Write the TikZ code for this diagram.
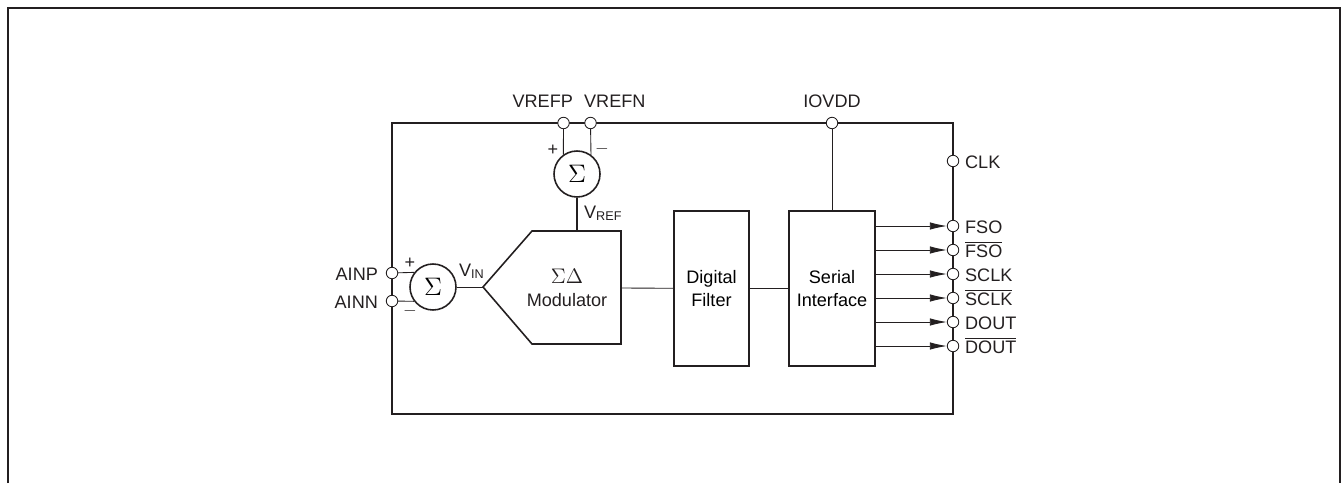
\documentclass[tikz,border=0pt]{standalone}
\usepackage{fontspec}
\setmainfont{Liberation Sans}
\usetikzlibrary{arrows.meta}
\definecolor{ink}{HTML}{231F20}
\tikzset{
  pad/.style={circle,draw=ink,fill=white,line width=0.5pt,minimum size=0.23cm,inner sep=0pt},
  sumnode/.style={circle,draw=ink,line width=0.9pt,minimum size=0.92cm,inner sep=0pt,font=\Large},
  blk/.style={draw=ink,line width=0.9pt,align=center,inner sep=0pt,minimum height=3.1cm},
  wire/.style={draw=ink,line width=0.5pt},
  sig/.style={wire,-{Latex[length=0.34cm,width=0.15cm]}},
  lbl/.style={text=ink,inner sep=1pt}
}

\begin{document}
\begin{tikzpicture}[x=0.02cm,y=-0.02cm,font=\fontsize{10.3}{13.5}\selectfont]
\useasboundingbox (0,0) rectangle (1344,483);
% frame and chip outline
\draw[ink,line width=0.8pt] (8,483) -- (8,8) -- (1340,8) -- (1340,483);
\draw[ink,line width=1.1pt] (392,123) rectangle (953,414);

% modulator
\draw[ink,line width=0.9pt] (483,287) coordinate (mtip) -- (532,231) -- (621,231)
  -- (621,344) -- (532,344) -- cycle;
\coordinate (mtop) at (577,231);
\coordinate (mout) at (621,288);
\node[lbl,align=center] (mod) at (567,288) {{\large$\Sigma\Delta$}\\Modulator};

% summing points
\node[sumnode] (sigin) at (433,287) {$\Sigma$};
\node[sumnode] (sigref) at (577,174) {$\Sigma$};

% blocks
\node[blk,minimum width=1.5cm] (filt) at (711.5,288.5) {Digital\\Filter};
\node[blk,minimum width=1.72cm] (ser) at (832,288.5) {Serial\\Interface};

% pads
\node[pad] (ainp) at (392,273) {};
\node[pad] (ainn) at (392,301) {};
\node[pad] (vrefp) at (563.5,123) {};
\node[pad] (vrefn) at (590.5,123) {};
\node[pad] (iovdd) at (832,123) {};
\node[pad] (clk) at (953,161) {};

\node[lbl,anchor=base east] at (380,280) {AINP};
\node[lbl,anchor=base east] at (380,308) {AINN};
\node[lbl,anchor=east] at (575,101) {VREFP};
\node[lbl,anchor=west] at (582,101) {VREFN};
\node[lbl] at (832,101) {IOVDD};
\node[lbl,anchor=base west] at (963,168) {CLK};

% inputs
\draw[wire] (ainp) -- (sigin.142.5);
\draw[wire] (ainn) -- (sigin.217.5);
\node[lbl] at (410,263) {+};
\node[lbl] at (410,311) {$-$};
\draw[wire] (sigin) -- (mtip);
\node[lbl,anchor=base west] at (457,276) {V\textsubscript{IN}};

\draw[wire] (vrefp) -- (sigref.125.9);
\draw[wire] (vrefn) -- (sigref.54.1);
\node[lbl] at (553,150) {+};
\node[lbl] at (602,149) {$-$};
\draw[ink,line width=0.9pt] (sigref) -- (mtop);
\node[lbl,anchor=base west] at (582,218) {V\textsubscript{REF}};

% data path
\draw[wire] (mout) -- (filt);
\draw[wire] (filt) -- (ser);
\draw[wire] (iovdd) -- (ser);

% outputs
\foreach \n/\y/\t in {fso/226/FSO, fsob/250/$\overline{\mbox{FSO}}$,
    sclk/274/SCLK, sclkb/298/$\overline{\mbox{SCLK}}$,
    dout/322/DOUT, doutb/346/$\overline{\mbox{DOUT}}$}{
  \node[pad] (\n) at (953,\y) {};
  \node[lbl,anchor=base west] at (963,\y+7) {\t};
  \draw[sig] (ser.east |- \n) -- (\n);
}
\end{tikzpicture}
\end{document}
